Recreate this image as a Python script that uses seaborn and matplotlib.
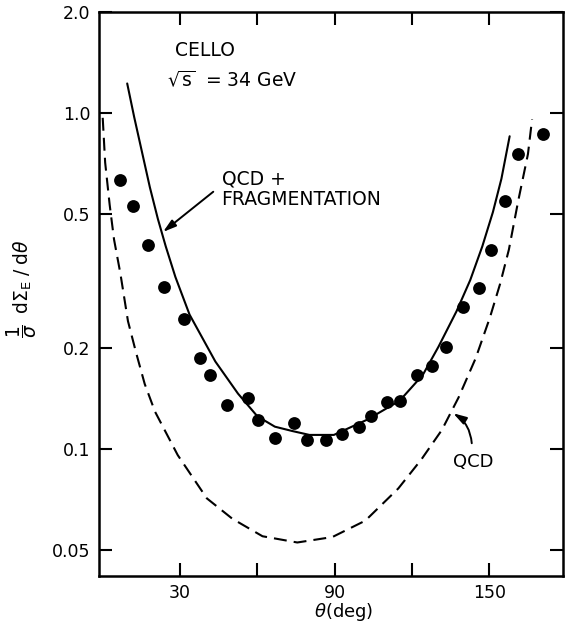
import matplotlib
matplotlib.use("Agg")
import matplotlib.pyplot as plt
from matplotlib.ticker import FixedLocator, NullLocator
import pandas as pd
import seaborn as sns

# CELLO energy-energy correlation, sqrt(s) = 34 GeV
theta_data = [6.6, 11.8, 17.6, 23.6, 31.4, 37.6, 41.7, 48.3, 56.3, 60.3, 66.9, 74.2,
              79.2, 86.7, 92.9, 99.3, 104.0, 110.4, 115.4, 121.9, 127.8, 133.1,
              139.7, 146.2, 150.5, 156.2, 161.0, 170.7]
eec_data = [0.631, 0.529, 0.404, 0.304, 0.244, 0.187, 0.166, 0.135, 0.142, 0.122,
            0.108, 0.119, 0.106, 0.106, 0.111, 0.116, 0.125, 0.138, 0.139, 0.166,
            0.176, 0.201, 0.264, 0.302, 0.392, 0.546, 0.755, 0.868]

# QCD + fragmentation prediction (solid)
theta_frag = [9.5, 12.2, 15.25, 18.3, 21.4, 24.45, 28.2, 33.7, 43.7, 52.5, 60.0,
              66.8, 73.5, 80.2, 89.7, 102.5, 115.2, 124.2, 130.3, 137.3, 142.6,
              147.3, 151.4, 154.7, 157.9]
eec_frag = [1.225, 0.974, 0.765, 0.601, 0.484, 0.401, 0.325, 0.251, 0.182, 0.146,
            0.125, 0.1164, 0.113, 0.110, 0.110, 0.122, 0.139, 0.166, 0.2015, 0.257,
            0.318, 0.401, 0.507, 0.637, 0.853]

# pure QCD prediction (dashed)
theta_qcd = [0.0, 0.95, 2.7, 4.4, 6.85, 9.8, 12.9, 16.3, 20.3, 29.1, 40.4, 50.3,
             62.0, 75.5, 89.1, 101.9, 114.7, 123.7, 131.6, 138.1, 144.7, 150.2,
             154.2, 157.6, 161.2, 165.0, 166.6]
eec_qcd = [0.968, 0.712, 0.533, 0.420, 0.333, 0.240, 0.194, 0.156, 0.129, 0.0958,
           0.0712, 0.0619, 0.0549, 0.0526, 0.0546, 0.0611, 0.0762, 0.0931, 0.1138,
           0.1423, 0.186, 0.2455, 0.310, 0.392, 0.5465, 0.755, 0.958]

x_ticks = [30, 60, 90, 120, 150]
x_tick_labels = ["30", "", "90", "", "150"]
y_ticks = [0.05, 0.1, 0.2, 0.5, 1.0, 2.0]
y_tick_labels = ["0.05", "0.1", "0.2", "0.5", "1.0", "2.0"]

sns.set_theme(style="ticks")
plt.rcParams["font.family"] = ["DejaVu Sans"]
plt.rcParams["mathtext.fontset"] = "dejavusans"
plt.rcParams["axes.linewidth"] = 1.8
plt.rcParams["text.color"] = "black"
plt.rcParams["axes.labelcolor"] = "black"

df_data = pd.DataFrame({"theta": theta_data, "eec": eec_data})
df_frag = pd.DataFrame({"theta": theta_frag, "eec": eec_frag})
df_qcd = pd.DataFrame({"theta": theta_qcd, "eec": eec_qcd})

fig = plt.figure(figsize=(5.65, 6.24), dpi=100)
ax = fig.add_axes([99 / 565, 48 / 624, 464 / 565, 564 / 624])

sns.lineplot(data=df_qcd, x="theta", y="eec", sort=False, estimator=None,
             color="black", lw=1.5, ax=ax)
ax.lines[-1].set_dashes((6.2, 3.4))
sns.lineplot(data=df_frag, x="theta", y="eec", sort=False, estimator=None,
             color="black", lw=1.5, ax=ax)
sns.scatterplot(data=df_data, x="theta", y="eec", s=85, color="black",
                linewidth=0, ax=ax, zorder=3)

ax.set_yscale("log")
ax.set_xlim(-1.44, 178.6)
ax.set_ylim(0.0418, 2.0)
ax.xaxis.set_major_locator(FixedLocator(x_ticks))
ax.set_xticklabels(x_tick_labels)
ax.yaxis.set_major_locator(FixedLocator(y_ticks))
ax.set_yticklabels(y_tick_labels)
ax.yaxis.set_minor_locator(NullLocator())
ax.xaxis.set_minor_locator(NullLocator())
ax.tick_params(which="major", direction="in", length=9.5, width=1.5,
               top=True, right=True, labelsize=12.5, pad=6, colors="black")
for sp in ax.spines.values():
    sp.set_color("black")

ax.set_xlabel(r"$\theta$(deg)", fontsize=13)
ax.xaxis.set_label_coords(0.528, -0.045)
ax.set_ylabel(r"$\dfrac{1}{\sigma}\;\;\mathrm{d}\Sigma_{\mathrm{E}}\;/\;\mathrm{d}\theta$",
              fontsize=13.5)
ax.yaxis.set_label_coords(-0.13, 0.51)

ax.text(28.1, 1.54, "CELLO", fontsize=13.5, ha="left", va="center")
ax.text(24.9, 1.255, r"$\sqrt{\mathrm{s}}$  = 34 GeV", fontsize=13.5,
        ha="left", va="center")
ax.text(46.1, 0.636, "QCD +", fontsize=13.5, ha="left", va="center")
ax.text(46.1, 0.5546, "FRAGMENTATION", fontsize=13.5, ha="left", va="center")
ax.text(136.0, 0.0911, "QCD", fontsize=13, ha="left", va="center")

arrow = dict(arrowstyle="-|>,head_length=0.6,head_width=0.18", color="black",
             lw=1.4, shrinkA=0, shrinkB=0, mutation_scale=13)
ax.annotate("", xy=(23.4, 0.4425), xytext=(42.9, 0.583), arrowprops=arrow)
ax.annotate("", xy=(136.0, 0.1276), xytext=(143.2, 0.1039),
            arrowprops=dict(arrow, connectionstyle="arc3,rad=0.25"))

fig.savefig("out.png", dpi=100)
